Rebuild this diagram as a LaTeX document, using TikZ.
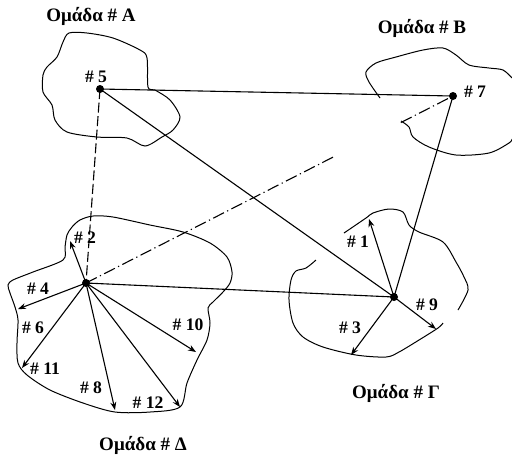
\documentclass[tikz,border=0pt]{standalone}
\usepackage{fontspec}
\setmainfont{Liberation Serif}
\usetikzlibrary{arrows.meta,calc}
\begin{document}
\begin{tikzpicture}[x=0.5pt,y=-0.5pt,
  conn/.style={line width=0.55pt},
  longdash/.style={dash pattern=on 5pt off 1.8pt},
  longdashdot/.style={dash pattern=on 6pt off 1.8pt on 0.6pt off 1.8pt},
  blob/.style={line width=0.5pt},
  arr/.style={line width=0.55pt,-{Stealth[length=4pt,width=3pt]}},
  dot/.style={circle,fill,inner sep=0pt,minimum size=4pt},
  lbl/.style={font=\bfseries\fontsize{8.8}{10}\selectfont,inner sep=0pt},
  grp/.style={font=\bfseries\fontsize{9.5}{11}\selectfont,inner sep=0pt}]
\useasboundingbox (0,0) rectangle (512,457);

% blobs
\draw[blob] plot[smooth cycle,tension=0.5] coordinates {(69,33) (87,33) (113,38) (140,50) (147,58) (148,87) (155,90) (170,100) (180,117) (173,130) (162,137) (145,146) (127,138) (97,137) (67,132) (55,120) (52,105) (43,92) (43,75) (47,67) (57,57) (63,42)};
\draw[blob] plot[smooth,tension=0.5] coordinates {(380,98) (369,82) (366,72) (376,63) (396,57) (423,50) (443,48) (456,55) (469,65) (489,68) (503,70) (512,78)};
\draw[blob] plot[smooth,tension=0.5] coordinates {(401,121) (409,127) (413,137) (429,147) (456,155) (489,153) (509,143) (512,139)};
\draw[blob] plot[smooth,tension=0.5] coordinates {(344,233) (366,218) (373,213) (389,209) (403,212) (409,225) (419,232) (443,242) (456,262) (464,277) (468,290) (458,310)};
\draw[blob] plot[smooth,tension=0.5] coordinates {(443,323) (438,328) (419,340) (399,352) (386,357) (356,355) (323,347) (303,337) (293,323) (289,300) (291,280) (296,271) (306,268) (316,260)};
\draw[blob] plot[smooth cycle,tension=0.5] coordinates {(72,227) (80,220) (93,216) (113,217) (150,225) (183,232) (210,243) (227,257) (232,272) (230,283) (223,292) (213,302) (208,308) (210,323) (207,340) (197,360) (187,383) (180,407) (150,412) (115,412) (83,403) (50,390) (27,375) (18,363) (17,343) (18,320) (15,307) (10,293) (8,285) (13,280) (33,272) (63,260) (65,247) (67,235)};

% main nodes
\node[dot] (N5) at (100,89) {};
\node[dot] (N7) at (453,96) {};
\node[dot] (D) at (86,283) {};
\node[dot] (G) at (394,297) {};

% connectors
\draw[conn] (N5.center) -- (N7.center);
\draw[conn] (N5.center) -- (G.center);
\draw[conn] (N7.center) -- (G.center);
\draw[conn] (D.center) -- (G.center);
\draw[conn,longdash] (N5.center) -- (D.center);
\draw[conn,longdashdot] (D.center) -- ($(D.center)!0.673!(N7.center)$);
\draw[conn,longdashdot] ($(D.center)!0.858!(N7.center)$) -- (N7.center);

% arrow ends
\coordinate (t2) at (70,241);
\coordinate (t4) at (18,309);
\coordinate (t11) at (22,368);
\coordinate (t8) at (115,410);
\coordinate (t12) at (180,407);
\coordinate (t10) at (196,352);
\coordinate (t1) at (369,219);
\coordinate (t9) at (436,329);
\coordinate (t3) at (351,355);
\foreach \t in {t2,t4,t11,t8,t12,t10} \draw[arr] (D.center) -- (\t);
\foreach \t in {t1,t9,t3} \draw[arr] (G.center) -- (\t);

% labels
\node[lbl] (l5) at (96,77) {\# 5};
\node[lbl] (l7) at (475,92) {\# 7};
\node[lbl] (l2) at (85,238) {\# 2};
\node[lbl] (l4) at (38,289) {\# 4};
\node[lbl] (l6) at (33,328) {\# 6};
\node[lbl] (l11) at (45,369) {\# 11};
\node[lbl] (l8) at (91,388) {\# 8};
\node[lbl] (l12) at (148,403) {\# 12};
\node[lbl] (l10) at (188,325) {\# 10};
\node[lbl] (l1) at (358,242) {\# 1};
\node[lbl] (l9) at (427,305) {\# 9};
\node[lbl] (l3) at (350,328) {\# 3};

\node[grp] (gA) at (91,16) {Ομάδα \# A};
\node[grp] (gB) at (422,28) {Ομάδα \# B};
\node[grp] (gG) at (396,393) {Ομάδα \# Γ};
\node[grp] (gD) at (143,445) {Ομάδα \# Δ};
\end{tikzpicture}
\end{document}
